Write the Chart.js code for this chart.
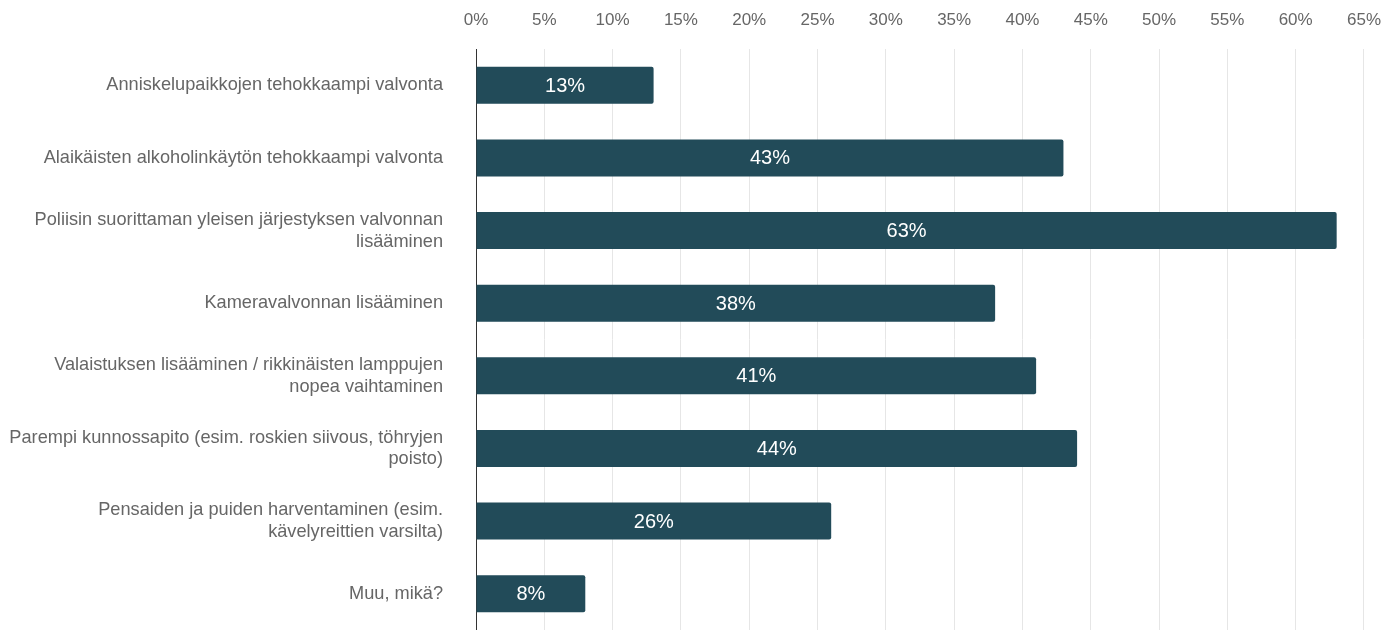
<!DOCTYPE html>
<html lang="fi">
<head>
  <meta charset="UTF-8">
  <title>Toimenpiteet</title>
  <script src="https://cdn.jsdelivr.net/npm/chart.js"></script>
  <style>
    html, body {
      margin: 0;
      padding: 0;
      background: #ffffff;
      overflow: hidden;
    }
    canvas {
      display: block;
    }
  </style>
</head>
<body>
  <canvas id="barChart" width="1399" height="630"></canvas>

  <script>
    // Categories (multi-line labels as arrays)
    const categories = [
      ['Anniskelupaikkojen tehokkaampi valvonta'],
      ['Alaikäisten alkoholinkäytön tehokkaampi valvonta'],
      ['Poliisin suorittaman yleisen järjestyksen valvonnan', 'lisääminen'],
      ['Kameravalvonnan lisääminen'],
      ['Valaistuksen lisääminen / rikkinäisten lamppujen', 'nopea vaihtaminen'],
      ['Parempi kunnossapito (esim. roskien siivous, töhryjen', 'poisto)'],
      ['Pensaiden ja puiden harventaminen (esim.', 'kävelyreittien varsilta)'],
      ['Muu, mikä?']
    ];
    const shares = [13, 43, 63, 38, 41, 44, 26, 8];
    const axisMax = 65;
    const axisStep = 5;

    // Draw the percentage inside each bar
    const barLabels = {
      id: 'barLabels',
      afterDatasetsDraw(chart) {
        const ctx = chart.ctx;
        const meta = chart.getDatasetMeta(0);
        ctx.save();
        ctx.font = '20px "Liberation Sans", Arial, sans-serif';
        ctx.fillStyle = '#ffffff';
        ctx.textAlign = 'center';
        ctx.textBaseline = 'middle';
        meta.data.forEach((bar, i) => {
          const x = (bar.x + bar.base) / 2;
          ctx.fillText(shares[i] + '%', x, bar.y + 1);
        });
        ctx.restore();
      }
    };

    const ctxBar = document.getElementById('barChart').getContext('2d');
    new Chart(ctxBar, {
      type: 'bar',
      data: {
        labels: categories,
        datasets: [{
          data: shares,
          backgroundColor: '#224b59',
          borderRadius: 2,
          borderSkipped: 'start',
          categoryPercentage: 0.51,
          barPercentage: 1
        }]
      },
      plugins: [barLabels],
      options: {
        indexAxis: 'y',
        responsive: false,
        animation: false,
        layout: { padding: { top: 0, right: 24, bottom: 0, left: 0 } },
        plugins: {
          legend: { display: false },
          tooltip: { enabled: false }
        },
        scales: {
          x: {
            position: 'top',
            min: 0,
            max: axisMax,
            afterFit(scale) { scale.height = 49; },
            border: { display: false },
            grid: {
              color: '#e6e6e6',
              lineWidth: 1,
              drawTicks: false
            },
            ticks: {
              stepSize: axisStep,
              padding: 18,
              color: '#666666',
              font: { family: '"Liberation Sans", Arial, sans-serif', size: 17 },
              callback: v => v + '%'
            }
          },
          y: {
            afterFit(scale) {
              scale.width = 476;
              // the tick padding should not shrink the plot vertically
              scale.paddingTop = 0;
              scale.paddingBottom = 0;
            },
            border: { display: true, color: '#333333', width: 1 },
            grid: { display: false, drawTicks: false },
            ticks: {
              padding: 33,
              color: '#666666',
              font: { family: '"Liberation Sans", Arial, sans-serif', size: 18.2, lineHeight: 1.2 }
            }
          }
        }
      }
    });
  </script>
</body>
</html>
